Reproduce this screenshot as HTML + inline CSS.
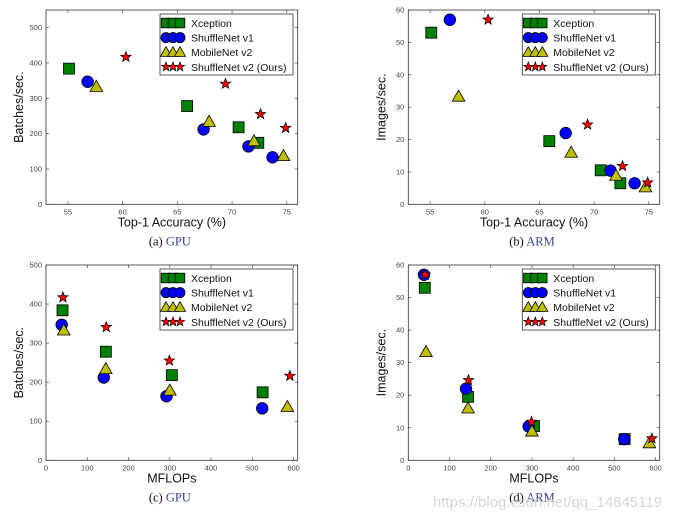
<!DOCTYPE html>
<html><head><meta charset="utf-8"><style>
body{margin:0;background:#fff;}
svg text{font-family:"Liberation Sans",sans-serif;}
svg text.cap{font-family:"Liberation Serif",serif;}
</style></head><body>
<svg id="fig" width="687" height="521" xmlns="http://www.w3.org/2000/svg"></svg>
<script>
const seriesNames = ["Xception","ShuffleNet v1","MobileNet v2","ShuffleNet v2 (Ours)"];
const accuracy = [[55.1,65.9,70.6,72.4],[56.8,67.4,71.5,73.7],[57.6,67.9,72.0,74.7],[60.3,69.4,72.6,74.9]];
const mflops = [[40,145,305,525],[38,140,292,524],[43,145,300,585],[41,146,299,591]];
const gpuBatches = [[384,278,218,174],[347,212,164,133],[333,234,179,137],[417,341,255,216]];
const armImages = [[53,19.5,10.5,6.5],[57,22,10.4,6.5],[33.3,16,8.9,5.3],[57,24.6,11.8,6.7]];
const accTicks = [55,60,65,70,75];
const flopTicks = [0,100,200,300,400,500,600];
const gpuTicks = [0,100,200,300,400,500];
const armTicks = [0,10,20,30,40,50,60];

const NS="http://www.w3.org/2000/svg";
const svg=document.getElementById('fig');
function mk(tag,attrs,parent){const e=document.createElementNS(NS,tag);for(const k in attrs)e.setAttribute(k,attrs[k]);(parent||svg).appendChild(e);return e;}
const colors=["#008000","#0000ff","#bfbf00","#ff0000"];
function marker(g,k,cx,cy,s){
  let e;
  if(k===0){e=mk('rect',{x:cx-s,y:cy-s,width:2*s,height:2*s,fill:colors[0],stroke:'#000','stroke-width':0.8},g);}
  else if(k===1){e=mk('circle',{cx:cx,cy:cy,r:s*1.05,fill:colors[1],stroke:'#000','stroke-width':0.8},g);}
  else if(k===2){const r=s*1.15;e=mk('polygon',{points:`${cx},${cy-r} ${cx+r},${cy+r*0.75} ${cx-r},${cy+r*0.75}`,fill:colors[2],stroke:'#000','stroke-width':0.8},g);}
  else{let p=[];const R=s*1.0,r=R*0.42;for(let i=0;i<10;i++){const a=-Math.PI/2+i*Math.PI/5;const rr=i%2?r:R;p.push((cx+rr*Math.cos(a)).toFixed(1)+','+(cy+rr*Math.sin(a)).toFixed(1));}e=mk('polygon',{points:p.join(' '),fill:colors[3],stroke:'#000','stroke-width':0.7},g);}
  return e;
}
function chart(id,box,xr,yr,xticks,yticks,xs,ys,xlabel,ylabel,cap1,cap2){
  const g=mk('g',{});
  
  
  const [L,T,R,B]=box;
  const X=v=>L+(v-xr[0])/(xr[1]-xr[0])*(R-L);
  const Y=v=>B-(v-yr[0])/(yr[1]-yr[0])*(B-T);
  const frame=mk('rect',{x:L,y:T,width:R-L,height:B-T,fill:'#fff',stroke:'#333','stroke-width':0.8},g);
  
  
  xticks.forEach(t=>{const x=X(t);mk('line',{x1:x,x2:x,y1:B,y2:B-3,stroke:'#333','stroke-width':0.6},g);mk('line',{x1:x,x2:x,y1:T,y2:T+3,stroke:'#333','stroke-width':0.6},g);
    const tx=mk('text',{x:x,y:B+10,'font-size':7.5,fill:'#444','text-anchor':'middle'},g);tx.textContent=t;
    
    });
  yticks.forEach(t=>{const y=Y(t);mk('line',{x1:L,x2:L+3,y1:y,y2:y,stroke:'#333','stroke-width':0.6},g);mk('line',{x1:R,x2:R-3,y1:y,y2:y,stroke:'#333','stroke-width':0.6},g);
    const tx=mk('text',{x:L-4,y:y+2.5,'font-size':7.5,fill:'#444','text-anchor':'end'},g);tx.textContent=t;
    
    });
  for(let k=0;k<4;k++){for(let i=0;i<xs[k].length;i++){const m=marker(g,k,X(xs[k][i]),Y(ys[k][i]),5.5);
    
    }}
  const xl=mk('text',{x:(L+R)/2,y:B+22,'font-size':12.5,fill:'#111','text-anchor':'middle'},g);xl.textContent=xlabel;
  
  
  const yl=mk('text',{x:0,y:0,'font-size':12.5,fill:'#111','text-anchor':'middle',transform:`translate(${L-23},${(T+B)/2}) rotate(-90)`},g);yl.textContent=ylabel;
  
  
  const lg=mk('g',{},g);
  
  
  const lx=L+114, ly=T+4;
  mk('rect',{x:lx,y:ly,width:133,height:61,fill:'#fff',stroke:'#333','stroke-width':0.8},lg);
  for(let k=0;k<4;k++){const yy=ly+9+k*14.6;
    const e=mk('g',{},lg);
    
    
    [6,13,20].forEach(dx=>marker(e,k,lx+dx,yy,4.8));
    const t=mk('text',{x:lx+31,y:yy+4,'font-size':10.5,fill:'#111'},e);t.textContent=seriesNames[k];}
  const c=mk('text',{x:(L+R)/2-2,y:B+41,'font-size':12.5,'text-anchor':'middle',fill:'#111','class':'cap'},g);
  
  
  const t1=mk('tspan',{},c);t1.textContent=cap1+' ';const t2=mk('tspan',{fill:'#3a4a8a'},c);t2.textContent=cap2;
}
chart('chart-a-gpu-accuracy',[46,10,297.7,204.3],[53,76],[0,550],accTicks,gpuTicks,accuracy,gpuBatches,'Top-1 Accuracy (%)','Batches/sec.','(a)','GPU');
chart('chart-b-arm-accuracy',[408.3,10,659.7,204.3],[53,76],[0,60],accTicks,armTicks,accuracy,armImages,'Top-1 Accuracy (%)','Images/sec.','(b)','ARM');
chart('chart-c-gpu-mflops',[46,265,297.7,460.3],[0,610],[0,500],flopTicks,gpuTicks,mflops,gpuBatches,'MFLOPs','Batches/sec.','(c)','GPU');
chart('chart-d-arm-mflops',[408.3,265,659.7,460.3],[0,610],[0,60],flopTicks,armTicks,mflops,armImages,'MFLOPs','Images/sec.','(d)','ARM');
const wm=mk('text',{x:433,y:507,'font-size':15,fill:'#ccc',opacity:0.8});


wm.textContent='https://blog.csdn.net/qq_14845119';
</script>
</body></html>
